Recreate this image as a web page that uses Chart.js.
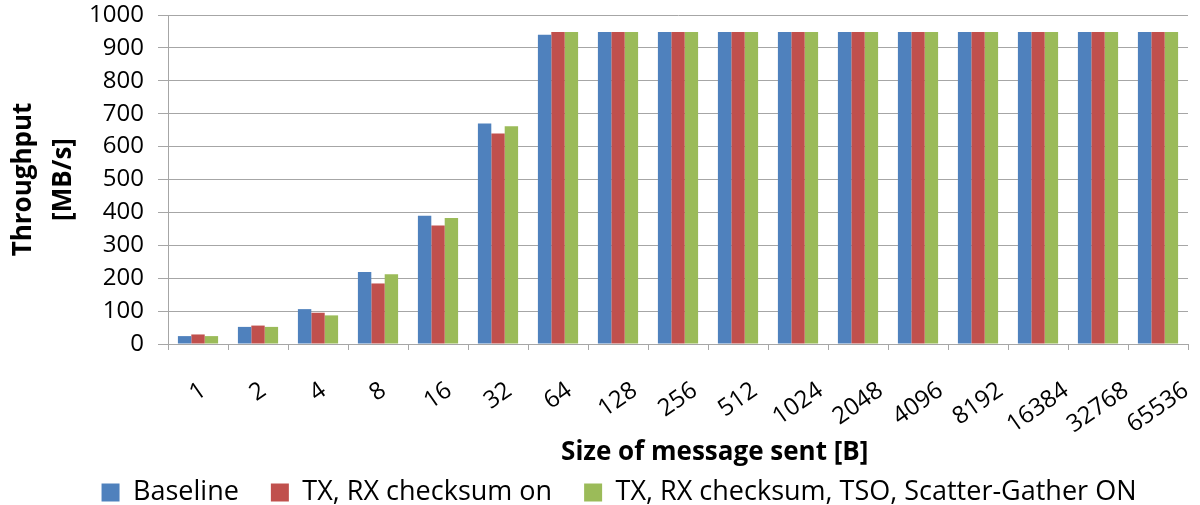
<!DOCTYPE html>
<html>
<head>
<meta charset="utf-8">
<script src="https://cdn.jsdelivr.net/npm/chart.js@4.4.1/dist/chart.umd.min.js"></script>
<style>
  html, body { margin: 0; padding: 0; background: #ffffff; }
  #wrap { width: 1200px; height: 505px; }
</style>
</head>
<body>
<div id="wrap"><canvas id="c"></canvas></div>
<script>
// Message sizes in bytes (x categories)
const messageSizes = ['1', '2', '4', '8', '16', '32', '64', '128', '256', '512', '1024',
  '2048', '4096', '8192', '16384', '32768', '65536'];

// Throughput in MB/s for each configuration
const baseline = [24, 52, 106, 219, 390, 670, 940, 948, 948, 948, 948, 948, 948, 948, 948, 948, 948];
const checksumOn = [29, 56, 95, 184, 360, 640, 948, 948, 948, 948, 948, 948, 948, 948, 948, 948, 948];
const checksumTsoSg = [24, 52, 87, 212, 383, 662, 948, 948, 948, 948, 948, 948, 948, 948, 948, 948, 948];

const seriesNames = ['Baseline', 'TX, RX checksum on', 'TX, RX checksum, TSO, Scatter-Gather ON'];
const yTicks = [0, 100, 200, 300, 400, 500, 600, 700, 800, 900, 1000];
const xTitle = 'Size of message sent [B]';

const FONT = '"Open Sans", sans-serif';
const colors = ['#4F81BD', '#C0504D', '#9BBB59'];
const gridColor = '#a6a6a6';

// Category labels on the x axis: rotated 35°, each one centred under its
// group and hanging from a common top line; plus the axis title below them.
const slantedLabels = {
  id: 'slantedLabels',
  afterDraw(chart) {
    const scale = chart.scales.x;
    const ctx = chart.ctx;
    const angle = 35 * Math.PI / 180;
    const size = 24;
    const capH = size * 0.72;
    const topY = scale.top + 37;
    ctx.save();
    ctx.font = `${size}px ${FONT}`;
    ctx.fillStyle = '#000';
    ctx.textAlign = 'center';
    ctx.textBaseline = 'middle';
    scale.ticks.forEach((t, i) => {
      const label = String(chart.data.labels[i]);
      const w = ctx.measureText(label).width;
      const boxH = w * Math.sin(angle) + capH * Math.cos(angle);
      const x = scale.getPixelForTick(i);
      ctx.save();
      ctx.translate(x, topY + boxH / 2);
      ctx.rotate(-angle);
      ctx.fillText(label, 0, 0);
      ctx.restore();
    });
    ctx.font = `bold 26px ${FONT}`;
    ctx.fillText(xTitle, scale.left + (scale.right - scale.left) * 0.536, scale.top + 109);
    ctx.restore();
  }
};

new Chart(document.getElementById('c'), {
  type: 'bar',
  data: {
    labels: messageSizes,
    datasets: [baseline, checksumOn, checksumTsoSg].map((d, i) => ({
      label: seriesNames[i],
      data: d,
      backgroundColor: colors[i],
      borderWidth: 0,
      categoryPercentage: 0.67,
      barPercentage: 1.0
    }))
  },
  plugins: [slantedLabels],
  options: {
    responsive: true,
    maintainAspectRatio: false,
    animation: false,
    layout: { padding: { left: 50, right: 12, top: 15, bottom: 0 } },
    plugins: {
      tooltip: { enabled: false },
      legend: {
        position: 'bottom',
        maxHeight: 58,
        labels: {
          color: '#000',
          font: { family: FONT, size: 27 },
          boxWidth: 18,
          boxHeight: 18,
          padding: 32,
          useBorderRadius: false
        }
      }
    },
    scales: {
      x: {
        afterFit: (s) => { s.height = 103; },
        grid: {
          display: true,
          drawOnChartArea: false,
          drawTicks: true,
          tickLength: 6,
          color: gridColor
        },
        border: { color: gridColor, width: 1 },
        ticks: { display: false },
        title: { display: false }
      },
      y: {
        min: 0,
        max: 1000,
        afterFit: (s) => { s.width = 118; s.paddingTop = 0; s.paddingBottom = 0; },
        afterBuildTicks: (axis) => { axis.ticks = yTicks.map(v => ({ value: v })); },
        grid: {
          color: gridColor,
          lineWidth: 1,
          drawTicks: true,
          tickLength: 10
        },
        border: { color: gridColor, width: 1 },
        ticks: {
          color: '#000',
          font: { family: FONT, size: 24 },
          padding: 14,
          autoSkip: false,
          callback: (v) => String(v)
        },
        title: {
          display: true,
          text: ['Throughput', '[MB/s]'],
          color: '#000',
          font: { family: FONT, size: 26, weight: 'bold', lineHeight: 1.54 },
          padding: { top: -46, bottom: 0 }
        }
      }
    }
  }
});
</script>
</body>
</html>
